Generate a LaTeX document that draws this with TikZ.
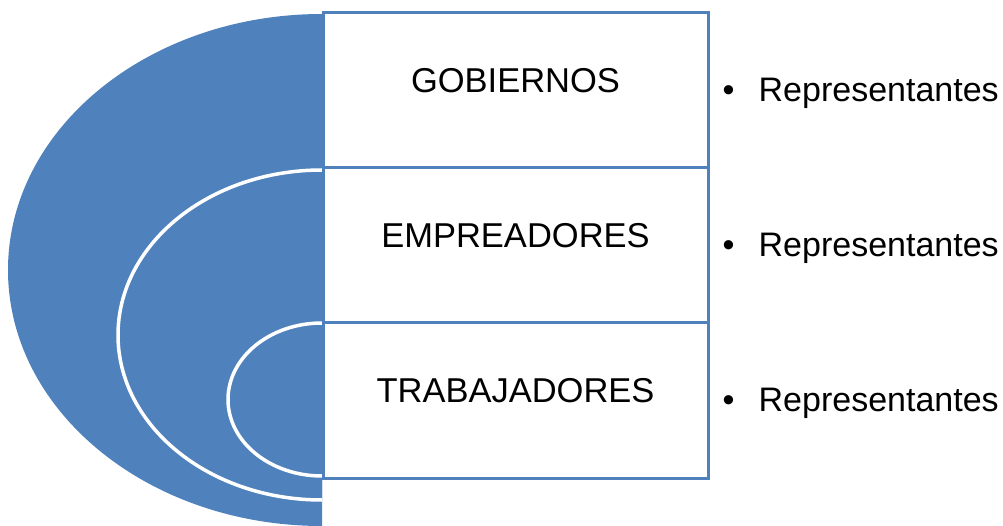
\documentclass[tikz,border=0pt]{standalone}
\usepackage{fontspec}
\setmainfont{Liberation Sans}
\definecolor{azul}{HTML}{4F81BD}
\tikzset{
  caja/.style={draw=azul, line width=3pt, fill=white, minimum width=385pt, minimum height=155pt, inner sep=0pt},
  titulo/.style={font=\fontsize{34.5}{40}\selectfont},
  punto/.style={anchor=base west, font=\fontsize{34}{40}\selectfont, inner sep=0pt},
  borde/.style={draw=white, line width=3.5pt}
}

\begin{document}
\begin{tikzpicture}[x=1pt,y=1pt]
\useasboundingbox (0,0) rectangle (1003,525);
\clip (0,0) rectangle (1003,525);

% semielipses
\fill[azul] (322,511) arc[start angle=90,end angle=270,x radius=314pt,y radius=256pt] -- cycle;
\fill[azul] (322,355) arc[start angle=90,end angle=270,x radius=204pt,y radius=165pt] -- cycle;
\draw[borde] (322,355) arc[start angle=90,end angle=270,x radius=204pt,y radius=165pt];
\fill[azul] (322,202) arc[start angle=90,end angle=270,x radius=94pt,y radius=76.5pt] -- cycle;
\draw[borde] (322,202) arc[start angle=90,end angle=270,x radius=94pt,y radius=76.5pt];

% cajas
\foreach \n/\y/\t in {gob/434.5/GOBIERNOS, emp/279.5/EMPREADORES, tra/124.5/TRABAJADORES} {
  \node[caja] (\n) at (515.5,\y) {};
  \node[titulo] (\n-t) at ([yshift=10]\n.center) {\t};
  \node[punto] (\n-r) at ([xshift=13,yshift=-11]\n.east) {\makebox[36pt][l]{\textbullet}Representantes};
}
\end{tikzpicture}
\end{document}
